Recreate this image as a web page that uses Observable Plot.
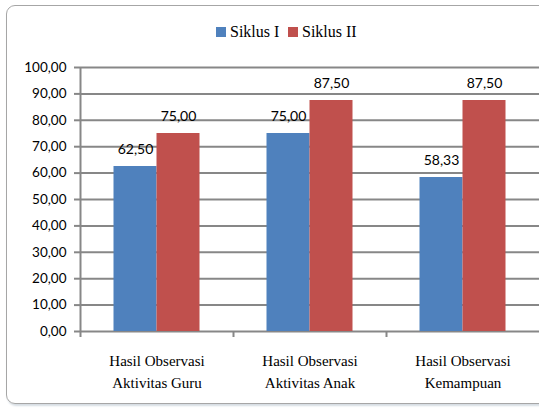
<!DOCTYPE html>
<html>
<head>
<meta charset="utf-8">
<script src="https://cdn.jsdelivr.net/npm/d3@7"></script>
<script src="https://cdn.jsdelivr.net/npm/@observablehq/plot@0.6"></script>
<style>
  html, body { margin: 0; padding: 0; background: #fff; overflow: hidden; }
  #wrap { position: relative; width: 539px; height: 412px; }
  #border { position: absolute; left: 6px; top: 5px; width: 600px; height: 399px;
            border: 1px solid #a6a6a6; border-radius: 9px; box-sizing: border-box;
            box-shadow: 1px 2px 2px #d6dde3; }
  #legend { position: absolute; top: 21px; left: 0; width: 539px; height: 22px;
            font-family: "Liberation Serif", serif; font-size: 16px; color: #000; }
  .key { position: absolute; top: 0; display: flex; align-items: center; height: 22px; }
  .sw { width: 10px; height: 10px; margin-right: 4px; }
  #chart { position: absolute; left: 0; top: 0; }
</style>
</head>
<body>
<div id="wrap">
  <div id="border"></div>
  <div id="chart"></div>
  <div id="legend"></div>
</div>
<script>
const categories = ["Hasil Observasi Aktivitas Guru", "Hasil Observasi Aktivitas Anak", "Hasil Observasi Kemampuan"];
const tickLabels = ["Hasil Observasi\nAktivitas Guru", "Hasil Observasi\nAktivitas Anak", "Hasil Observasi\nKemampuan"];
const series = ["Siklus I", "Siklus II"];
const siklus1 = [62.50, 75.00, 58.33];
const siklus2 = [75.00, 87.50, 87.50];
const yTicks = [0, 10, 20, 30, 40, 50, 60, 70, 80, 90, 100];
const colors = ["#4F81BD", "#C0504D"];

const W = 539, H = 412, mL = 80, mR = 0, mT = 67, mB = 81;
const bw = (W - mL - mR) / categories.length;
const barW = 43;
const grid = "#878787";

const d1 = categories.map((c, i) => ({cat: c, value: siklus1[i], series: series[0]}));
const d2 = categories.map((c, i) => ({cat: c, value: siklus2[i], series: series[1]}));
const fmt = v => d3.format(".2f")(v).replace(".", ",");
const labelOf = Object.fromEntries(categories.map((c, i) => [c, tickLabels[i]]));

const chart = Plot.plot({
  width: W, height: H,
  marginLeft: mL, marginRight: mR, marginTop: mT, marginBottom: mB,
  style: {background: "transparent", overflow: "visible"},
  x: {domain: categories, padding: 0, label: null},
  y: {domain: [0, 100], label: null},
  color: {domain: series, range: colors},
  marks: [
    Plot.ruleY(yTicks, {stroke: grid, strokeWidth: 2, strokeOpacity: 1}),
    Plot.barY(d1, {x: "cat", y: "value", fill: "series", insetLeft: bw / 2 - barW, insetRight: bw / 2}),
    Plot.barY(d2, {x: "cat", y: "value", fill: "series", insetLeft: bw / 2, insetRight: bw / 2 - barW}),
    Plot.ruleX([categories[0]], {x: d => d, dx: -bw / 2, stroke: grid, strokeWidth: 2}),
    Plot.axisY({ticks: yTicks, tickSize: 6, tickPadding: 8, tickFormat: fmt, stroke: grid, strokeWidth: 2,
                fontSize: 13.5, fontFamily: "Lato, sans-serif", fill: "#000", label: null}),
    Plot.axisX({tickSize: 6, tickFormat: () => "", dx: -bw / 2, stroke: grid, strokeWidth: 2, label: null}),
    Plot.axisX({tickSize: 0, tickPadding: 19, tickFormat: d => labelOf[d], lineHeight: 1.45,
                fontSize: 15, fontFamily: "Liberation Serif, serif", fill: "#000", label: null}),
    Plot.text(d1, {x: "cat", y: "value", text: d => fmt(d.value), dx: -barW / 2, dy: -13, lineAnchor: "bottom",
                   fontSize: 14, fontFamily: "Lato, sans-serif", fill: "#000"}),
    Plot.text(d2, {x: "cat", y: "value", text: d => fmt(d.value), dx: barW / 2, dy: -13, lineAnchor: "bottom",
                   fontSize: 14, fontFamily: "Lato, sans-serif", fill: "#000"})
  ]
});
document.getElementById("chart").appendChild(chart);

const legend = document.getElementById("legend");
const keyLeft = [216, 288];
series.forEach((s, i) => {
  const k = document.createElement("div");
  k.className = "key";
  k.style.left = keyLeft[i] + "px";
  const sw = document.createElement("span");
  sw.className = "sw";
  sw.style.background = colors[i];
  const t = document.createElement("span");
  t.textContent = s;
  k.appendChild(sw); k.appendChild(t);
  legend.appendChild(k);
});
</script>
</body>
</html>
